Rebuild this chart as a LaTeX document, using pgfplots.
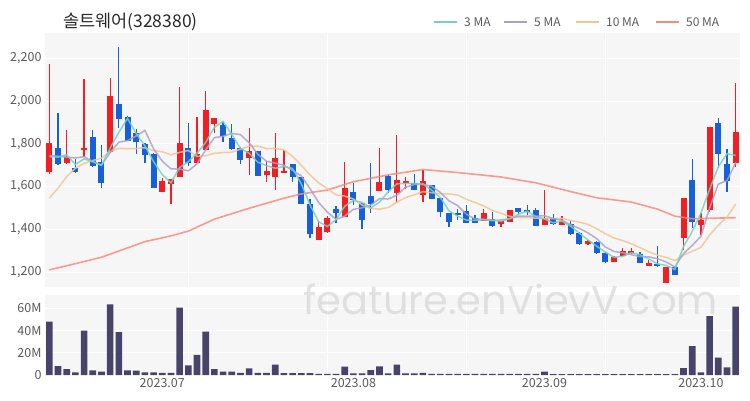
\documentclass[border=0pt]{standalone}
\usepackage{fontspec}
\setmainfont{Noto Sans CJK KR}
\newfontfamily\wmfont{Poppins}
\usepackage{pgfplots}
\usepackage{pgfplotstable}
\pgfplotsset{compat=1.18}
\definecolor{cred}{RGB}{242,30,35}
\definecolor{cblue}{RGB}{22,96,218}
\definecolor{cvol}{RGB}{70,68,106}
\definecolor{bg}{RGB}{246,246,246}
\definecolor{ma3}{RGB}{118,208,196}
\definecolor{ma5}{RGB}{172,160,200}
\definecolor{ma10}{RGB}{244,196,146}
\definecolor{ma50}{RGB}{246,140,128}
\definecolor{lbl}{RGB}{90,90,90}
\definecolor{ttl}{RGB}{40,40,40}
\definecolor{wm}{RGB}{214,214,214}

\pgfplotstableread{
i o h l c
0 1667 2173 1660 1803
2 1709 1865 1705 1737
4 1771 2102 1740 1782
7 1761 2107 1755 2025
13 1577 1639 1577 1627
14 1613 1635 1519 1635
15 1644 2067 1644 1806
17 1709 1924 1709 1753
18 1772 2047 1770 1958
19 1893 1920 1852 1920
23 1733 1873 1655 1768
25 1655 1722 1621 1675
26 1644 1852 1585 1733
27 1665 1771 1663 1675
31 1351 1441 1351 1410
32 1390 1463 1385 1452
34 1457 1717 1457 1595
38 1581 1779 1581 1623
40 1569 1842 1525 1631
41 1619 1647 1588 1628
43 1561 1678 1530 1627
50 1440 1496 1440 1476
52 1426 1440 1413 1440
53 1436 1491 1436 1491
57 1421 1585 1421 1452
59 1421 1463 1421 1440
62 1331 1350 1328 1345
65 1250 1275 1248 1273
66 1276 1312 1276 1301
67 1292 1312 1285 1300
69 1231 1257 1231 1245
71 1151 1223 1151 1223
73 1362 1549 1304 1549
75 1421 1478 1374 1444
76 1491 1880 1483 1880
79 1712 2083 1691 1857
}\upc

\pgfplotstableread{
i o h l c
1 1779 1946 1701 1706
3 1689 1728 1663 1670
5 1832 1865 1691 1697
6 1717 1793 1595 1619
8 1986 2251 1876 1918
9 1924 1930 1812 1815
10 1850 1868 1753 1810
11 1798 1803 1709 1748
12 1751 1756 1593 1593
16 1779 1896 1697 1709
20 1888 1904 1810 1837
21 1826 1892 1772 1775
22 1779 1784 1706 1725
24 1768 1768 1650 1650
28 1705 1705 1623 1647
29 1647 1647 1519 1519
30 1519 1541 1359 1379
33 1496 1510 1429 1476
35 1577 1616 1515 1538
36 1522 1522 1401 1444
37 1557 1709 1476 1518
39 1651 1655 1569 1585
42 1616 1658 1585 1585
44 1608 1608 1541 1541
45 1546 1546 1460 1483
46 1476 1476 1410 1436
47 1476 1496 1444 1468
48 1486 1514 1429 1429
49 1455 1468 1429 1429
51 1449 1483 1413 1418
54 1502 1502 1471 1483
55 1491 1514 1468 1480
56 1491 1499 1416 1416
58 1452 1471 1421 1426
60 1426 1440 1374 1378
61 1385 1390 1328 1331
63 1340 1345 1286 1289
64 1292 1296 1245 1247
68 1285 1293 1242 1242
70 1239 1323 1226 1229
72 1223 1229 1187 1187
74 1631 1728 1406 1436
77 1896 1922 1686 1753
78 1706 1775 1574 1628
}\dnc

\pgfplotstableread{
i m3 m5 m10
0 1740 1745 1546
1 1738 1742 1593
2 1749 1738 1647
3 1704 1734 1686
4 1730 1740 1709
5 1716 1718 1722
6 1699 1701 1733
7 1780 1759 1764
8 1854 1808 1779
9 1919 1815 1777
10 1848 1837 1778
11 1791 1863 1782
12 1717 1777 1768
13 1656 1719 1763
14 1618 1683 1749
15 1689 1682 1760
16 1717 1674 1769
17 1756 1706 1741
18 1807 1772 1745
19 1877 1829 1756
20 1905 1835 1759
21 1844 1849 1761
22 1779 1843 1775
23 1756 1805 1789
24 1714 1751 1790
25 1698 1719 1777
26 1686 1710 1779
27 1694 1700 1772
28 1685 1676 1741
29 1614 1650 1700
30 1515 1591 1655
31 1436 1526 1618
32 1414 1481 1591
33 1446 1447 1562
34 1508 1462 1556
35 1536 1494 1542
36 1526 1501 1514
37 1500 1514 1498
38 1528 1544 1495
39 1575 1542 1502
40 1613 1560 1527
41 1615 1597 1549
42 1615 1610 1562
43 1613 1611 1577
44 1584 1602 1572
45 1550 1573 1567
46 1487 1534 1566
47 1462 1511 1561
48 1444 1471 1541
49 1442 1449 1526
50 1445 1448 1510
51 1441 1444 1489
52 1445 1438 1475
53 1450 1451 1461
54 1471 1462 1455
55 1485 1462 1455
56 1460 1462 1453
57 1449 1464 1451
58 1431 1451 1451
59 1439 1443 1452
60 1415 1422 1442
61 1383 1405 1434
62 1351 1384 1424
63 1322 1357 1404
64 1294 1318 1380
65 1270 1297 1360
66 1274 1291 1348
67 1291 1282 1333
68 1281 1273 1315
69 1262 1272 1295
70 1239 1263 1280
71 1232 1248 1269
72 1213 1225 1254
73 1320 1287 1280
74 1391 1325 1298
75 1476 1368 1316
76 1587 1499 1374
77 1692 1612 1419
78 1754 1628 1457
79 1746 1712 1519
}\ma

\pgfplotstableread{
i m
0 1211
3 1240
6 1270
11 1343
14 1370
16 1392
19 1448
23 1499
27 1546
29 1566
32 1584
35 1623
39 1655
43 1680
47 1666
52 1645
56 1618
60 1577
63 1548
67 1528
70 1495
72 1462
74 1450
79 1455
}\maL

\pgfplotstableread{
i v
0 48
1 8
2 5.4
3 2.4
4 40
5 4.2
6 3
7 63.6
8 38.5
9 4.2
10 3.9
11 2.4
12 2.4
13 2
14 2
15 60.6
16 8.7
17 18.2
18 39
19 5.4
20 3
21 3
22 2
23 6
24 2
25 2
26 9.3
27 1.8
28 1.8
29 1.8
30 1.8
31 1
32 1
33 1
34 7.5
35 1.5
36 1.5
37 4.5
38 7.8
39 1.5
40 9.3
41 1.5
42 1.5
43 2
44 1
45 1
46 1
47 1
48 1
49 1
50 1
51 1
52 1
53 1
54 1
55 1
56 1
57 3
58 0.8
59 0.8
60 0.8
61 0.8
62 0.8
63 0.8
64 0.8
65 0.8
66 0.8
67 0.8
68 0.8
69 0.8
70 0.8
71 0.8
72 0.8
73 6.2
74 26
75 2.3
76 53
77 15.6
78 6.8
79 61.6
}\vol

\pgfplotsset{
  base/.style={
    scale only axis, width=695pt,
    xmin=-0.5, xmax=79.5,
    axis background/.style={fill=bg},
    axis line style={draw=none},
    tick style={draw=none},
    grid=major,
    major grid style={white, line width=1pt},
    xtick={16,32,48,64}, xticklabels={},
    tick label style={font=\fontsize{12.5}{14}\selectfont, text=lbl},
    /pgf/number format/assume math mode=true,
  },
  wick/.style={only marks, mark options={draw=none, fill=none}, mark size=0pt, forget plot,
    error bars/.cd, y dir=both, y explicit, error mark=none,
    error bar style={line width=1.3pt, #1}},
  body/.style={only marks, mark options={draw=none, fill=none}, mark size=0pt, forget plot,
    error bars/.cd, y dir=both, y explicit, error mark=none,
    error bar style={line width=6pt, #1}},
}

\begin{document}
\begin{tikzpicture}
\path[use as bounding box] (0pt,0pt) rectangle (750pt,400pt);

\begin{axis}[base, at={(45pt,113pt)}, anchor=south west, height=254pt,
  ymin=1131, ymax=2318, ytick={1200,1400,...,2200},
  scaled y ticks=false,
  yticklabel style={/pgf/number format/.cd, fixed, precision=0, 1000 sep={,}}]
\addplot[wick=cred] table[x=i, y expr={(\thisrow{h}+\thisrow{l})/2}, y error expr={(\thisrow{h}-\thisrow{l})/2}] {\upc};
\addplot[body=cred] table[x=i, y expr={(\thisrow{o}+\thisrow{c})/2}, y error expr={max(abs(\thisrow{c}-\thisrow{o}),4)/2}] {\upc};
\addplot[wick=cblue] table[x=i, y expr={(\thisrow{h}+\thisrow{l})/2}, y error expr={(\thisrow{h}-\thisrow{l})/2}] {\dnc};
\addplot[body=cblue] table[x=i, y expr={(\thisrow{o}+\thisrow{c})/2}, y error expr={max(abs(\thisrow{c}-\thisrow{o}),4)/2}] {\dnc};
\addplot[ma50, line width=1.6pt, opacity=0.85, mark=none] table[x=i, y=m] {\maL};
\addplot[ma10, line width=1.5pt, opacity=0.85, mark=none] table[x=i, y=m10] {\ma};
\addplot[ma5, line width=1.5pt, opacity=0.85, mark=none] table[x=i, y=m5] {\ma};
\addplot[ma3, line width=1.5pt, opacity=0.85, mark=none] table[x=i, y=m3] {\ma};
\end{axis}

\begin{axis}[base, at={(45pt,25pt)}, anchor=south west, height=80pt,
  ymin=0, ymax=72, ytick={0,20,40,60}, yticklabels={0,20M,40M,60M},
  extra x ticks={13,35,57,75},
  extra x tick labels={2023.07,2023.08,2023.09,2023.10},
  extra x tick style={grid=none}]
\addplot[ybar, bar width=6.6pt, fill=cvol, draw=none] table[x=i, y=v] {\vol};
\end{axis}

\node[anchor=base west, font=\wmfont\fontsize{40}{40}\selectfont, text=wm, opacity=0.7] at (300pt,86pt) {feature.enVievV.com};

\node[anchor=west, font=\fontsize{17.5}{19}\selectfont, text=ttl, inner sep=0pt] at (63pt,378pt) {솔트웨어(328380)};

\begin{scope}[every node/.style={anchor=west, font=\fontsize{12}{14}\selectfont, text=lbl, inner sep=0pt}]
\draw[ma3, line width=1.5pt] (434pt,378pt) -- (457pt,378pt);
\node at (464pt,378pt) {3 MA};
\draw[ma5, line width=1.5pt] (504pt,378pt) -- (527pt,378pt);
\node at (534pt,378pt) {5 MA};
\draw[ma10, line width=1.5pt] (576pt,378pt) -- (599pt,378pt);
\node at (606pt,378pt) {10 MA};
\draw[ma50, line width=1.5pt] (656pt,378pt) -- (679pt,378pt);
\node at (686pt,378pt) {50 MA};
\end{scope}
\end{tikzpicture}
\end{document}
